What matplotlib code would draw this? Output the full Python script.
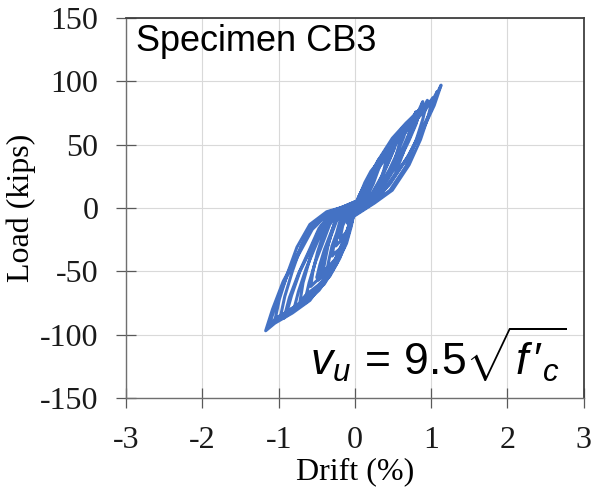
import matplotlib
matplotlib.use('Agg')
import matplotlib.pyplot as plt

# Cyclic test record for Specimen CB3: drift (%) and load (kips), one row per cycle
drift_cycles = [
    [0.00, 0.02, 0.04, 0.06, 0.08, 0.09, 0.10, 0.09, 0.08, 0.06, 0.04, 0.02, 0.00,
     -0.03, -0.05, -0.07, -0.08, -0.09, -0.10, -0.09, -0.07, -0.05, -0.03, -0.01, 0.00],
    [0.04, 0.07, 0.12, 0.14, 0.17, 0.18, 0.17, 0.14, 0.10, 0.06, 0.03, 0.01,
     -0.06, -0.10, -0.13, -0.16, -0.18, -0.20, -0.18, -0.14, -0.10, -0.06, -0.03, -0.01],
    [0.06, 0.12, 0.17, 0.20, 0.23, 0.24, 0.22, 0.17, 0.12, 0.08, 0.04, 0.01,
     -0.09, -0.14, -0.18, -0.21, -0.24, -0.25, -0.22, -0.17, -0.12, -0.07, -0.03, -0.01],
    [0.06, 0.12, 0.19, 0.24, 0.28, 0.30, 0.28, 0.23, 0.17, 0.11, 0.05, 0.01,
     -0.09, -0.15, -0.20, -0.24, -0.28, -0.30, -0.27, -0.21, -0.15, -0.09, -0.04, -0.01],
    [0.08, 0.16, 0.24, 0.30, 0.35, 0.38, 0.35, 0.29, 0.21, 0.13, 0.07, 0.02,
     -0.11, -0.19, -0.24, -0.30, -0.34, -0.37, -0.33, -0.26, -0.19, -0.11, -0.05, -0.01],
    [0.11, 0.22, 0.32, 0.38, 0.42, 0.45, 0.41, 0.32, 0.23, 0.15, 0.07, 0.01,
     -0.15, -0.24, -0.30, -0.35, -0.39, -0.42, -0.37, -0.28, -0.19, -0.11, -0.05, -0.01],
    [0.11, 0.23, 0.36, 0.45, 0.52, 0.56, 0.52, 0.42, 0.31, 0.20, 0.10, 0.02,
     -0.14, -0.24, -0.32, -0.38, -0.44, -0.48, -0.43, -0.34, -0.24, -0.14, -0.07, -0.02],
    [0.11, 0.23, 0.35, 0.44, 0.51, 0.55, 0.51, 0.41, 0.30, 0.19, 0.10, 0.02,
     -0.15, -0.25, -0.33, -0.40, -0.46, -0.50, -0.45, -0.35, -0.25, -0.15, -0.07, -0.02],
    [0.16, 0.30, 0.43, 0.52, 0.58, 0.62, 0.56, 0.45, 0.32, 0.20, 0.10, 0.02,
     -0.20, -0.32, -0.42, -0.49, -0.55, -0.58, -0.51, -0.38, -0.27, -0.16, -0.07, -0.02],
    [0.14, 0.29, 0.45, 0.56, 0.64, 0.70, 0.65, 0.53, 0.39, 0.25, 0.13, 0.03,
     -0.20, -0.33, -0.43, -0.52, -0.60, -0.65, -0.59, -0.46, -0.33, -0.20, -0.09, -0.03],
    [0.19, 0.36, 0.53, 0.63, 0.71, 0.75, 0.68, 0.54, 0.39, 0.25, 0.12, 0.02,
     -0.25, -0.40, -0.52, -0.60, -0.68, -0.72, -0.63, -0.48, -0.33, -0.19, -0.09, -0.02],
    [0.16, 0.33, 0.51, 0.64, 0.74, 0.80, 0.74, 0.60, 0.44, 0.28, 0.14, 0.03,
     -0.24, -0.40, -0.53, -0.64, -0.74, -0.80, -0.72, -0.56, -0.40, -0.24, -0.11, -0.03],
    [0.18, 0.36, 0.57, 0.71, 0.82, 0.89, 0.83, 0.67, 0.49, 0.31, 0.16, 0.04,
     -0.28, -0.47, -0.61, -0.74, -0.86, -0.93, -0.84, -0.65, -0.47, -0.28, -0.13, -0.04],
    [0.17, 0.36, 0.56, 0.70, 0.80, 0.87, 0.81, 0.65, 0.48, 0.30, 0.16, 0.03,
     -0.27, -0.45, -0.59, -0.72, -0.83, -0.90, -0.81, -0.63, -0.45, -0.27, -0.13, -0.04],
    [0.24, 0.46, 0.67, 0.80, 0.89, 0.95, 0.86, 0.68, 0.49, 0.31, 0.15, 0.03,
     -0.34, -0.55, -0.71, -0.82, -0.92, -0.98, -0.86, -0.65, -0.45, -0.26, -0.12, -0.03],
    [0.23, 0.46, 0.72, 0.90, 1.04, 1.13, 1.05, 0.85, 0.62, 0.40, 0.20, 0.05,
     -0.35, -0.59, -0.77, -0.94, -1.08, -1.17, -1.05, -0.82, -0.59, -0.35, -0.16, -0.05],
    [0.26, 0.49, 0.71, 0.86, 0.96, 1.02, 0.92, 0.73, 0.53, 0.34, 0.16, 0.03,
     -0.37, -0.59, -0.76, -0.88, -0.99, -1.05, -0.92, -0.69, -0.48, -0.28, -0.13, -0.03],
    [0.22, 0.44, 0.69, 0.86, 0.99, 1.08, 1.00, 0.81, 0.59, 0.38, 0.19, 0.04,
     -0.34, -0.56, -0.74, -0.90, -1.03, -1.12, -1.01, -0.78, -0.56, -0.34, -0.16, -0.04],
]

load_cycles = [
    [0, 1, 2, 5, 8, 10, 12, 11, 10, 8, 5, 3, 1,
     -1, -2, -5, -7, -10, -12, -11, -10, -9, -7, -4, -1],
    [1, 4, 10, 14, 18, 22, 20, 18, 14, 10, 6, 1,
     -1, -4, -10, -14, -20, -24, -23, -21, -18, -13, -7, -2],
    [1, 5, 11, 17, 23, 28, 25, 21, 16, 11, 6, 1,
     -1, -4, -11, -17, -24, -30, -28, -25, -21, -15, -8, -2],
    [2, 7, 16, 23, 30, 36, 32, 29, 23, 16, 9, 2,
     -2, -7, -15, -23, -31, -38, -36, -33, -29, -21, -11, -3],
    [2, 9, 19, 29, 37, 44, 40, 35, 29, 20, 11, 3,
     -2, -9, -20, -30, -41, -50, -47, -43, -38, -28, -15, -4],
    [2, 8, 19, 30, 40, 49, 43, 36, 28, 19, 10, 2,
     -2, -7, -18, -29, -41, -51, -48, -42, -36, -25, -13, -3],
    [3, 12, 26, 38, 48, 58, 52, 46, 38, 26, 15, 3,
     -2, -10, -23, -34, -47, -57, -54, -49, -43, -31, -17, -5],
    [3, 11, 24, 36, 46, 55, 50, 44, 36, 25, 14, 3,
     -2, -10, -22, -33, -45, -55, -52, -47, -41, -30, -17, -4],
    [2, 10, 24, 37, 50, 60, 53, 45, 35, 24, 12, 2,
     -2, -9, -22, -35, -50, -62, -58, -51, -44, -31, -16, -4],
    [3, 14, 30, 44, 56, 68, 61, 54, 44, 31, 17, 4,
     -3, -13, -29, -43, -59, -72, -68, -62, -54, -40, -22, -6],
    [3, 12, 27, 43, 58, 70, 61, 52, 40, 27, 14, 3,
     -2, -11, -26, -42, -59, -74, -68, -61, -52, -36, -19, -5],
    [4, 15, 33, 49, 63, 76, 68, 61, 49, 34, 19, 5,
     -3, -14, -32, -48, -66, -80, -75, -69, -60, -44, -24, -6],
    [4, 17, 37, 55, 70, 84, 76, 67, 55, 38, 21, 5,
     -3, -16, -35, -52, -71, -87, -82, -75, -65, -48, -26, -7],
    [4, 16, 35, 52, 66, 80, 72, 64, 52, 36, 20, 5,
     -3, -15, -34, -50, -69, -84, -79, -72, -63, -46, -25, -7],
    [4, 14, 33, 53, 70, 85, 75, 63, 49, 33, 18, 4,
     -3, -13, -31, -50, -70, -87, -81, -72, -61, -43, -23, -5],
    [5, 19, 43, 63, 81, 97, 87, 78, 63, 44, 24, 6,
     -4, -17, -39, -58, -80, -97, -91, -83, -73, -53, -29, -8],
    [4, 14, 34, 54, 72, 87, 77, 65, 50, 34, 18, 4,
     -3, -13, -31, -51, -72, -89, -83, -74, -63, -44, -23, -6],
    [5, 18, 40, 60, 76, 92, 83, 74, 60, 41, 23, 6,
     -4, -17, -37, -55, -75, -92, -86, -79, -69, -51, -28, -7],
]

x_ticks = [-3, -2, -1, 0, 1, 2, 3]
y_ticks = [-150, -100, -50, 0, 50, 100, 150]

drift = [v for c in drift_cycles for v in c]
load = [v for c in load_cycles for v in c]

plt.rcParams['axes.unicode_minus'] = False
plt.rcParams['mathtext.fontset'] = 'custom'
plt.rcParams['mathtext.rm'] = 'Liberation Sans'
plt.rcParams['mathtext.it'] = 'Liberation Sans:italic'

fig = plt.figure(figsize=(5.92, 4.87), dpi=100)
ax = fig.add_axes([0.213, 0.183, 0.773, 0.78])

ax.plot(drift, load, color='#4472C4', lw=2.2, solid_joinstyle='round')

ax.set_xlim(-3, 3)
ax.set_ylim(-150, 150)
ax.set_xticks(x_ticks)
ax.set_yticks(y_ticks)
ax.grid(True, color='#d9d9d9', lw=0.8)
ax.set_axisbelow(True)

for s in ['top', 'right']:
    ax.spines[s].set_color('#404040')
    ax.spines[s].set_linewidth(1.3)
for s in ['left', 'bottom']:
    ax.spines[s].set_color('#6f6f6f')
    ax.spines[s].set_linewidth(1.0)

serif = 'Liberation Serif'
ax.tick_params(axis='both', direction='inout', length=14, width=0.9,
               color='#595959', labelsize=23)
ax.tick_params(axis='x', pad=13)
ax.tick_params(axis='y', pad=13)
for lab in ax.get_xticklabels() + ax.get_yticklabels():
    lab.set_fontfamily(serif)
    lab.set_color('#1a1a1a')

ax.set_xlabel('Drift (%)', fontsize=23, family=serif, labelpad=2)
ax.set_ylabel('Load (kips)', fontsize=23, family=serif, labelpad=3)

ax.text(0.022, 0.985, 'Specimen CB3', transform=ax.transAxes,
        fontsize=26, family='Liberation Sans', va='top', ha='left')
ax.text(0.962, 0.035, r"$v_u\,=\,9.5\sqrt{f\,\prime_c}$", transform=ax.transAxes,
        fontsize=32, va='bottom', ha='right')

fig.savefig('out.png', dpi=100)
